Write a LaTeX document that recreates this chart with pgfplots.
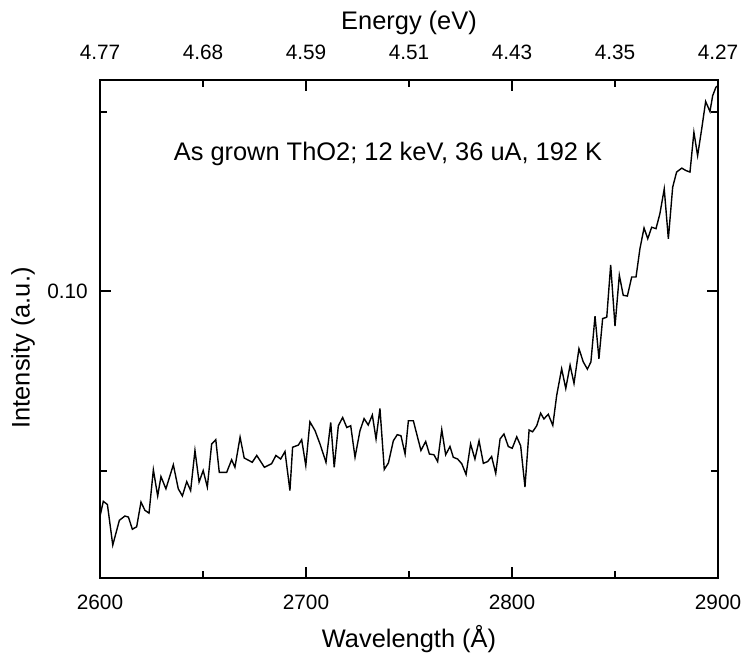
\documentclass[border=0pt]{standalone}
\usepackage{fontspec}
\setmainfont{Liberation Sans}
\usepackage{pgfplots}
\pgfplotsset{compat=1.18}

\pgfplotstableread{
lambda I
2600.0 0.0372
2601.6 0.0414
2603.6 0.0405
2606.2 0.0292
2609.4 0.0361
2612.1 0.0373
2613.8 0.0370
2615.7 0.0336
2617.8 0.0343
2619.9 0.0412
2621.8 0.0389
2623.8 0.0381
2625.9 0.0502
2628.0 0.0429
2629.6 0.0483
2632.0 0.0449
2635.6 0.0516
2638.0 0.0449
2640.0 0.0429
2642.1 0.0469
2644.0 0.0444
2646.1 0.0556
2648.1 0.0468
2650.1 0.0500
2652.1 0.0454
2654.2 0.0574
2656.2 0.0586
2657.9 0.0495
2661.5 0.0495
2663.9 0.0530
2665.5 0.0509
2668.0 0.0593
2670.0 0.0535
2673.9 0.0523
2676.1 0.0542
2679.8 0.0509
2683.3 0.0519
2685.4 0.0542
2687.7 0.0532
2689.8 0.0553
2692.2 0.0444
2693.5 0.0565
2696.3 0.0571
2697.9 0.0586
2699.9 0.0514
2701.9 0.0636
2704.4 0.0611
2706.8 0.0574
2709.7 0.0523
2712.0 0.0634
2713.7 0.0509
2715.7 0.0625
2717.8 0.0648
2719.8 0.0620
2721.7 0.0625
2723.8 0.0537
2726.2 0.0611
2728.2 0.0645
2730.2 0.0627
2732.2 0.0655
2734.0 0.0588
2735.9 0.0673
2738.0 0.0503
2740.0 0.0521
2742.4 0.0583
2744.3 0.0600
2746.1 0.0597
2748.1 0.0546
2749.7 0.0639
2752.1 0.0639
2755.8 0.0556
2758.1 0.0581
2759.9 0.0546
2762.1 0.0544
2763.9 0.0525
2765.9 0.0614
2767.8 0.0544
2769.9 0.0567
2771.5 0.0537
2773.6 0.0532
2775.6 0.0519
2777.7 0.0489
2779.9 0.0574
2782.0 0.0532
2784.0 0.0583
2786.1 0.0520
2788.2 0.0525
2790.1 0.0539
2792.1 0.0492
2794.2 0.0588
2796.1 0.0602
2798.2 0.0567
2800.1 0.0562
2802.3 0.0594
2804.2 0.0569
2806.3 0.0454
2808.3 0.0613
2810.0 0.0608
2812.0 0.0625
2813.9 0.0660
2815.5 0.0644
2817.6 0.0657
2819.8 0.0626
2821.7 0.0710
2824.1 0.0784
2826.1 0.0729
2828.2 0.0794
2830.1 0.0743
2832.5 0.0840
2834.6 0.0803
2836.6 0.0783
2838.3 0.0803
2840.3 0.0931
2842.2 0.0812
2844.0 0.0924
2846.0 0.0928
2847.9 0.1074
2850.0 0.0903
2852.1 0.1045
2854.0 0.0989
2856.0 0.0987
2858.1 0.1040
2860.2 0.1040
2862.1 0.1119
2864.1 0.1177
2865.9 0.1147
2867.8 0.1179
2869.9 0.1175
2871.8 0.1217
2873.9 0.1286
2875.9 0.1147
2878.0 0.1291
2879.9 0.1333
2882.4 0.1344
2884.5 0.1337
2886.4 0.1333
2888.3 0.1444
2890.1 0.1379
2892.1 0.1454
2894.0 0.1530
2896.1 0.1502
2897.4 0.1546
2899.0 0.1570
2900.0 0.1574
}\spectrum

\begin{document}
\begin{tikzpicture}
\pgfplotsset{
  frame/.style={
    scale only axis, width=309pt, height=249pt,
    xmin=2600, xmax=2900, ymin=0.02, ymax=0.159,
    axis line style={line width=1pt},
    tick style={line width=1pt, black},
    /pgf/number format/assume math mode=true,
    /pgf/number format/1000 sep={},
    tick label style={font=\fontsize{10.4}{12}\selectfont},
    label style={font=\fontsize{12.7}{15}\selectfont},
  }
}
% bottom / left axis with the data
\begin{axis}[frame,
  xtick={2600,2700,2800,2900},
  minor xtick={2650,2750,2850},
  ytick={0.1}, yticklabels={0.10},
  minor ytick={0.05,0.15},
  scaled y ticks=false,
  major tick length=5.5pt, minor tick length=3.5pt,
  tick align=inside,
  xticklabel style={anchor=center, yshift=-12pt},
  yticklabel style={anchor=center, xshift=-16.25pt},
  xlabel={Wavelength (Å)},
  xlabel style={at={(axis description cs:0.5,-0.1225)}, anchor=center},
  ylabel={Intensity (a.u.)},
  ylabel style={at={(axis description cs:-0.1246,0.462)}, anchor=center},
]
\addplot[black, line width=0.7pt, no marks] table[x=lambda, y=I] {\spectrum};
\node[anchor=base, font=\fontsize{12.7}{15}\selectfont] at (axis cs:2739.8,0.1366)
  {As grown ThO2; 12 keV, 36 uA, 192 K};
\coordinate (sw) at (rel axis cs:0,0);
\coordinate (ne) at (rel axis cs:1,1);
\end{axis}
% top energy scale
\begin{axis}[frame,
  axis x line*=top, hide y axis,
  xtick={2600,2650,2700,2750,2800,2850,2900},
  xticklabels={4.77,4.68,4.59,4.51,4.43,4.35,4.27},
  major tick length=0pt,
  xticklabel style={anchor=center, yshift=13.75pt},
  xlabel={Energy (eV)},
  xlabel style={at={(axis description cs:0.5,1.1145)}, anchor=center},
]
\end{axis}
\pgfresetboundingbox
\path ([shift={(-50pt,-39pt)}]sw) rectangle ([shift={(12.5pt,40pt)}]ne);
\end{tikzpicture}
\end{document}
